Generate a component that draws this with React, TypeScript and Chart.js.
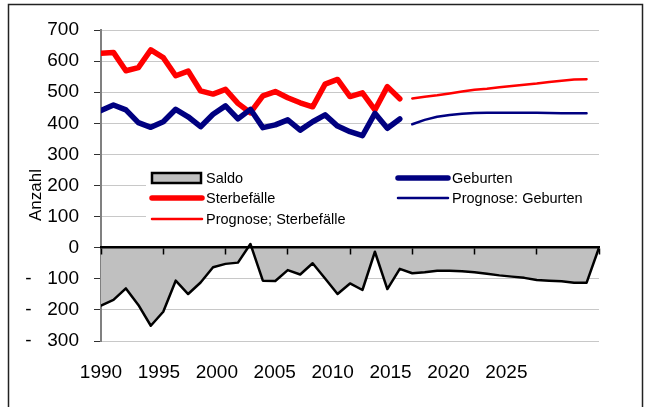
import React, { useEffect, useRef } from "react";
import { Chart, registerables } from "chart.js";

Chart.register(...registerables);

const histYears = [1990, 1991, 1992, 1993, 1994, 1995, 1996, 1997, 1998, 1999, 2000, 2001, 2002, 2003, 2004, 2005, 2006, 2007, 2008, 2009, 2010, 2011, 2012, 2013, 2014];
const progYears = [2015, 2016, 2017, 2018, 2019, 2020, 2021, 2022, 2023, 2024, 2025, 2026, 2027, 2028, 2029];
const saldoYears = [1990, 1991, 1992, 1993, 1994, 1995, 1996, 1997, 1998, 1999, 2000, 2001, 2002, 2003, 2004, 2005, 2006, 2007, 2008, 2009, 2010, 2011, 2012, 2013, 2014, 2015, 2016, 2017, 2018, 2019, 2020, 2021, 2022, 2023, 2024, 2025, 2026, 2027, 2028, 2029, 2030];

const geburten = [441, 459, 443, 402, 387, 405, 445, 421, 389, 429, 456, 414, 445, 386, 395, 411, 378, 405, 427, 391, 373, 360, 432, 384, 414];
const sterbefaelle = [625, 628, 569, 579, 636, 611, 553, 568, 504, 494, 509, 464, 434, 488, 502, 482, 466, 453, 526, 541, 486, 498, 443, 518, 479];
const prognoseGeburten = [397, 411, 421, 427, 431, 433, 434, 434, 434, 434, 434, 433, 432, 432, 432];
const prognoseSterbefaelle = [480, 485, 490, 496, 502, 508, 511, 516, 520, 524, 528, 533, 537, 541, 542];
const saldo = [-186, -168, -131, -184, -251, -206, -106, -149, -112, -63, -52, -48, 12, -106, -107, -72, -86, -50, -99, -149, -115, -136, -13, -133, -68, -82, -79, -74, -74, -76, -79, -84, -89, -93, -97, -104, -106, -108, -113, -113, 0];

const xTickLabels = [1990, 1995, 2000, 2005, 2010, 2015, 2020, 2025];
const seriesNames = ["Saldo", "Geburten", "Sterbefälle", "Prognose: Geburten", "Prognose; Sterbefälle"];
const yTitle = "Anzahl";

const FONT = '"Liberation Sans", Arial, sans-serif';

function pts(xs: number[], ys: number[]) {
  return xs.map((x, i) => ({ x, y: ys[i] }));
}

const decorPlugin = {
  id: "decor",
  afterDraw(chart: any) {
    const { ctx } = chart;
    ctx.save();
    // outer frame
    ctx.strokeStyle = "#222";
    ctx.lineWidth = 1.5;
    ctx.strokeRect(8.5, 4.5, 634, 420);
    // y title
    ctx.save();
    ctx.translate(36, 195);
    ctx.rotate(-Math.PI / 2);
    ctx.font = `17px ${FONT}`;
    ctx.fillStyle = "#000";
    ctx.textAlign = "center";
    ctx.textBaseline = "middle";
    ctx.fillText(yTitle, 0, 0);
    ctx.restore();
    // legend
    ctx.fillStyle = "#fff";
    ctx.fillRect(146, 162, 453, 70);
    const colX = [151, 397];
    const rowY = [178, 198, 219];
    ctx.font = `14.5px ${FONT}`;
    ctx.textBaseline = "middle";
    ctx.textAlign = "left";
    chart.data.datasets.forEach((d: any, i: number) => {
      const x = colX[i % 2];
      const y = rowY[Math.floor(i / 2)];
      if (d.fill) {
        ctx.fillStyle = d.backgroundColor;
        ctx.fillRect(x + 1, y - 5, 49, 10);
        ctx.strokeStyle = d.borderColor;
        ctx.lineWidth = 2.5;
        ctx.strokeRect(x + 1, y - 5, 49, 10);
      } else {
        ctx.strokeStyle = d.borderColor;
        ctx.lineWidth = d.borderWidth;
        ctx.lineCap = "round";
        ctx.beginPath();
        ctx.moveTo(x + 1, y);
        ctx.lineTo(x + 51, y);
        ctx.stroke();
      }
      ctx.fillStyle = "#000";
      ctx.fillText(d.label, x + 55, y + 1);
    });
    ctx.restore();
  },
};

export default function App() {
  const ref = useRef<HTMLCanvasElement>(null);
  useEffect(() => {
    document.body.style.margin = "0";
    Chart.defaults.font.family = FONT;
    Chart.defaults.color = "#000";
    const chart = new Chart(ref.current as HTMLCanvasElement, {
      type: "line",
      data: {
        datasets: [
          {
            label: seriesNames[0],
            data: pts(saldoYears, saldo),
            fill: "origin",
            backgroundColor: "#C0C0C0",
            borderColor: "#000000",
            borderWidth: 2.5,
            order: 10,
          },
          {
            label: seriesNames[1],
            data: pts(histYears, geburten),
            fill: false,
            borderColor: "#000080",
            borderWidth: 5.5,
            order: 1,
          },
          {
            label: seriesNames[2],
            data: pts(histYears, sterbefaelle),
            fill: false,
            borderColor: "#FF0000",
            borderWidth: 5.5,
            order: 2,
          },
          {
            label: seriesNames[3],
            data: pts(progYears, prognoseGeburten),
            fill: false,
            borderColor: "#000080",
            borderWidth: 2.5,
            order: 3,
          },
          {
            label: seriesNames[4],
            data: pts(progYears, prognoseSterbefaelle),
            fill: false,
            borderColor: "#FF0000",
            borderWidth: 2.5,
            order: 4,
          },
        ],
      },
      options: {
        animation: false,
        responsive: false,
        parsing: true,
        layout: { padding: { left: 0, right: 46, top: 30, bottom: 0 } },
        plugins: { legend: { display: false }, tooltip: { enabled: false } },
        elements: {
          point: { radius: 0 },
          line: { tension: 0, borderJoinStyle: "round", borderCapStyle: "round" },
        },
        scales: {
          y: {
            type: "linear",
            position: "left",
            min: -300,
            max: 700,
            ticks: {
              stepSize: 100,
              padding: 15,
              font: { size: 19, family: FONT },
              color: "#000",
              callback: (v: any) => (v < 0 ? "-   " + Math.abs(v) : String(v)),
            },
            grid: { color: "#C8C8C8", lineWidth: 1, tickColor: "#303030", tickLength: 7, tickWidth: 1 },
            border: { display: true, color: "#808080", width: 2 },
            afterFit: (s: any) => {
              s.width = 101;
            },
          },
          x: {
            type: "linear",
            position: { y: 0 },
            min: 1990,
            max: 2030,
            ticks: { display: false, stepSize: 5, callback: (v: any) => String(v) },
            grid: { drawOnChartArea: false, drawTicks: true, tickLength: 6, tickColor: "#000", tickWidth: 1.5, z: 1 },
            border: { display: true, color: "#000", width: 2.5, z: 1 },
            afterFit: (s: any) => {
              s.height = 0;
            },
          },
          xl: {
            type: "linear",
            position: "bottom",
            min: 1990,
            max: 2033,
            afterBuildTicks: (s: any) => {
              s.ticks = xTickLabels.map((v) => ({ value: v }));
            },
            ticks: {
              autoSkip: false,
              maxRotation: 0,
              padding: 20,
              font: { size: 19, family: FONT },
              color: "#000",
              callback: (v: any) => String(v),
            },
            grid: { display: false, drawTicks: false },
            border: { display: false },
            afterFit: (s: any) => {
              s.height = 66;
            },
          },
        },
      } as any,
      plugins: [decorPlugin],
    });
    return () => chart.destroy();
  }, []);
  return (
    <div style={{ width: 645, height: 407, background: "#fff" }}>
      <canvas ref={ref} width={645} height={407} style={{ display: "block" }} />
    </div>
  );
}
